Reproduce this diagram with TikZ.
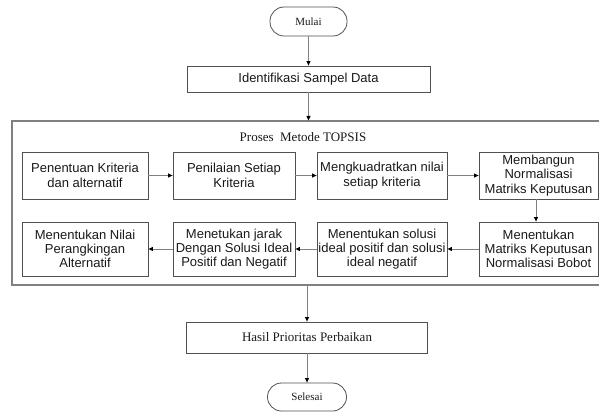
\documentclass[tikz,border=0pt]{standalone}
\usepackage{fontspec}
\setmainfont{Liberation Serif}
\newfontfamily\arialf{Liberation Sans}
\usetikzlibrary{arrows.meta}
\definecolor{boxline}{HTML}{505050}
\definecolor{conn}{HTML}{808080}
\begin{document}
\begin{tikzpicture}[x=1pt,y=-1pt,
  stepbox/.style={draw=boxline, line width=0.8pt, inner sep=0pt, align=center,
    font=\arialf\fontsize{13}{14.3}\selectfont, text=black!90},
  serifbox/.style={draw=boxline, line width=0.8pt, inner sep=0pt, align=center,
    font=\fontsize{13}{15}\selectfont, text=black!90},
  term/.style={draw=boxline, line width=0.8pt, inner sep=0pt, align=center,
    rounded corners=14pt, font=\fontsize{11}{13}\selectfont, text=black!90},
  conn/.style={draw=conn, line width=0.9pt, -{Triangle[length=4.5pt,width=4pt,fill=black,color=black]}}
]
\useasboundingbox (0,0) rectangle (599,412);

% outer process box (right edge off page)
\node[draw=conn, line width=1.1pt, minimum width=594pt, minimum height=164pt, inner sep=0pt] (big) at (309,203) {};
\node[font=\fontsize{13}{15}\selectfont, text=black!90] (title) at (303,137) {Proses\ \ Metode TOPSIS};

\node[term, minimum width=77pt, minimum height=29pt] (mulai) at (308.5,21.5) {Mulai};
\node[stepbox, minimum width=243pt, minimum height=26pt] (ident) at (308.5,79) {Identifikasi Sampel Data};

% row 1
\node[stepbox, minimum width=126pt, minimum height=47pt] (b1) at (85,175.5) {Penentuan Kriteria\\dan alternatif};
\node[stepbox, minimum width=122pt, minimum height=47pt] (b2) at (234,175.5) {Penilaian Setiap\\Kriteria};
\node[stepbox, minimum width=130pt, minimum height=47pt] (b3) at (382,175.5) {Mengkuadratkan nilai\\setiap kriteria};
\node[stepbox, minimum width=119pt, minimum height=47pt] (b4) at (538.5,175.5) {Membangun\\Normalisasi\\Matriks Keputusan};

% row 2
\node[stepbox, minimum width=126pt, minimum height=54pt] (c1) at (85,249) {Menentukan Nilai\\Perangkingan\\Alternatif};
\node[stepbox, minimum width=122pt, minimum height=54pt] (c2) at (234,249) {Menetukan jarak\\Dengan Solusi Ideal\\Positif dan Negatif};
\node[stepbox, minimum width=130pt, minimum height=54pt] (c3) at (382,249) {Menentukan solusi\\ideal positif dan solusi\\ideal negatif};
\node[stepbox, minimum width=119pt, minimum height=54pt] (c4) at (538.5,249) {Menentukan\\Matriks Keputusan\\Normalisasi Bobot};

\node[serifbox, minimum width=241pt, minimum height=31pt] (hasil) at (307,337.5) {Hasil Prioritas Perbaikan};
\node[term, minimum width=79pt, minimum height=28pt] (selesai) at (307,397) {Selesai};

% connectors
\draw[conn] (mulai.south) -- (ident.north);
\draw[conn] (ident.south) -- (ident.south |- big.north);
\draw[conn] (b1) -- (b2);
\draw[conn] (b2) -- (b3);
\draw[conn] (b3) -- (b4);
\draw[conn] (b4.south -| 536,0) -- (c4.north -| 536,0);
\draw[conn] (c4) -- (c3);
\draw[conn] (c3) -- (c2);
\draw[conn] (c2) -- (c1);
\draw[conn] (hasil.north |- big.south) -- (hasil.north);
\draw[conn] (hasil.south) -- (selesai.north);
\end{tikzpicture}
\end{document}
